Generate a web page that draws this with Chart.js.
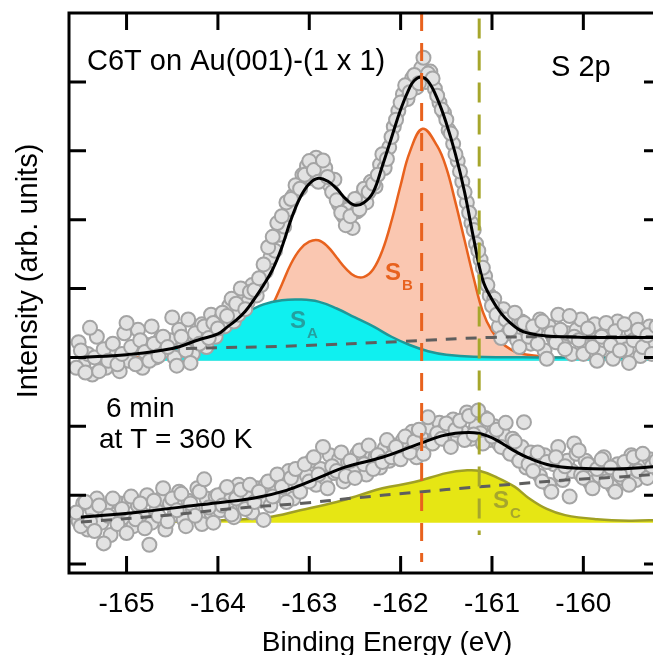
<!DOCTYPE html>
<html lang="en">
<head>
<meta charset="UTF-8">
<title>S 2p - C6T on Au(001)</title>
<style>
  html, body { margin: 0; padding: 0; background: #fff; overflow: hidden; }
  #wrap { width: 670px; height: 655px; }
</style>
</head>
<body>
<div id="wrap"><canvas id="xps" width="670" height="655"></canvas></div>
<script src="https://cdn.jsdelivr.net/npm/chart.js"></script>
<script>
// binding energy of the measured points (eV), two interleaved sets
const energy = [
  -165.55, -165.50, -165.45, -165.40, -165.35, -165.30, -165.25, -165.20, -165.15, -165.10,
  -165.05, -165.00, -164.95, -164.90, -164.85, -164.80, -164.75, -164.70, -164.65, -164.60,
  -164.55, -164.50, -164.45, -164.40, -164.35, -164.30, -164.25, -164.20, -164.15, -164.10,
  -164.05, -164.00, -163.95, -163.90, -163.85, -163.80, -163.75, -163.70, -163.65, -163.60,
  -163.55, -163.50, -163.45, -163.40, -163.35, -163.30, -163.25, -163.20, -163.15, -163.10,
  -163.05, -163.00, -162.95, -162.90, -162.85, -162.80, -162.75, -162.70, -162.65, -162.60,
  -162.55, -162.50, -162.45, -162.40, -162.35, -162.30, -162.25, -162.20, -162.15, -162.10,
  -162.05, -162.00, -161.95, -161.90, -161.85, -161.80, -161.75, -161.70, -161.65, -161.60,
  -161.55, -161.50, -161.45, -161.40, -161.35, -161.30, -161.25, -161.20, -161.15, -161.10,
  -161.05, -161.00, -160.95, -160.90, -160.85, -160.80, -160.75, -160.70, -160.65, -160.60,
  -160.55, -160.50, -160.45, -160.40, -160.35, -160.30, -160.25, -160.20, -160.15, -160.10,
  -160.05, -160.00, -159.95, -159.90, -159.85, -159.80, -159.75, -159.70, -159.65, -159.60,
  -159.55, -159.50, -159.45, -159.40, -159.35, -159.30, -159.25, -159.20
];
const energyMid = [
  -165.525, -165.475, -165.425, -165.375, -165.325, -165.275, -165.225, -165.175, -165.125, -165.075,
  -165.025, -164.975, -164.925, -164.875, -164.825, -164.775, -164.725, -164.675, -164.625, -164.575,
  -164.525, -164.475, -164.425, -164.375, -164.325, -164.275, -164.225, -164.175, -164.125, -164.075,
  -164.025, -163.975, -163.925, -163.875, -163.825, -163.775, -163.725, -163.675, -163.625, -163.575,
  -163.525, -163.475, -163.425, -163.375, -163.325, -163.275, -163.225, -163.175, -163.125, -163.075,
  -163.025, -162.975, -162.925, -162.875, -162.825, -162.775, -162.725, -162.675, -162.625, -162.575,
  -162.525, -162.475, -162.425, -162.375, -162.325, -162.275, -162.225, -162.175, -162.125, -162.075,
  -162.025, -161.975, -161.925, -161.875, -161.825, -161.775, -161.725, -161.675, -161.625, -161.575,
  -161.525, -161.475, -161.425, -161.375, -161.325, -161.275, -161.225, -161.175, -161.125, -161.075,
  -161.025, -160.975, -160.925, -160.875, -160.825, -160.775, -160.725, -160.675, -160.625, -160.575,
  -160.525, -160.475, -160.425, -160.375, -160.325, -160.275, -160.225, -160.175, -160.125, -160.075,
  -160.025, -159.975, -159.925, -159.875, -159.825, -159.775, -159.725, -159.675, -159.625, -159.575,
  -159.525, -159.475, -159.425, -159.375, -159.325, -159.275, -159.225
];

// upper spectrum (as deposited)
const countsTop = [
  2.85, 3.10, 2.78, 3.43, 3.00, 2.80, 3.12, 2.95, 3.20, 2.90,
  3.05, 3.50, 3.15, 2.90, 3.25, 3.08, 2.95, 3.20, 3.02, 3.30,
  3.15, 3.58, 2.88, 3.30, 3.10, 2.92, 3.35, 3.20, 3.45, 3.28,
  3.50, 3.42, 3.65, 3.60, 3.85, 3.78, 4.00, 3.70, 3.95, 3.98,
  4.15, 4.35, 4.60, 4.75, 4.95, 5.05, 5.25, 5.30, 5.50, 5.45,
  5.65, 5.85, 5.72, 5.55, 5.86, 5.62, 5.40, 5.28, 5.10, 4.92,
  5.05, 5.30, 5.15, 5.45, 5.40, 5.52, 5.65, 5.95, 5.88, 6.20,
  6.45, 6.70, 6.95, 6.85, 7.10, 6.98, 7.35, 7.12, 7.05, 6.80,
  6.60, 6.45, 6.25, 5.95, 5.70, 5.40, 5.10, 4.85, 4.55, 4.30,
  4.05, 3.75, 3.62, 3.28, 3.55, 3.40, 3.65, 3.15, 3.50, 3.30,
  3.45, 3.20, 3.52, 2.98, 3.35, 3.22, 3.40, 3.12, 3.60, 3.30,
  3.25, 3.05, 3.42, 3.15, 2.95, 3.30, 3.50, 3.18, 3.38, 3.10,
  3.48, 2.92, 3.25, 3.40, 3.15, 3.32, 3.05, 3.45
];
const countsTopMid = [
  3.22, 2.88, 3.05, 2.75, 3.30, 2.98, 2.85, 3.15, 3.05, 2.80,
  3.35, 2.95, 3.12, 3.40, 2.85, 3.18, 3.45, 3.00, 3.28, 3.10,
  3.25, 3.00, 3.40, 3.18, 3.55, 3.05, 3.22, 3.48, 3.15, 3.62,
  3.30, 3.55, 3.45, 3.75, 3.52, 3.62, 3.88, 3.80, 4.05, 3.90,
  4.05, 4.25, 4.45, 4.55, 4.78, 4.90, 5.15, 5.35, 5.42, 5.65,
  5.78, 5.60, 5.90, 5.68, 5.75, 5.50, 5.58, 5.22, 5.05, 5.15,
  4.88, 5.12, 5.35, 5.25, 5.55, 5.48, 5.80, 5.75, 6.05, 6.35,
  6.58, 6.82, 6.75, 7.05, 6.92, 7.20, 7.00, 7.15, 6.90, 6.70,
  6.55, 6.30, 6.10, 5.85, 5.55, 5.25, 4.95, 4.65, 4.42, 4.18,
  3.90, 3.85, 3.45, 3.70, 3.35, 3.58, 3.25, 3.52, 3.42, 3.20,
  3.38, 3.55, 3.10, 3.45, 3.28, 3.62, 3.18, 3.35, 3.05, 3.40,
  3.55, 3.20, 3.35, 3.48, 3.10, 3.25, 3.40, 2.98, 3.52, 3.22,
  3.12, 3.38, 3.55, 3.02, 3.28, 3.45, 3.18
];

// lower spectrum (6 min at 360 K)
const countsBottom = [
  0.75, 0.55, 0.90, 0.62, 0.48, 0.85, 0.30, 0.70, 0.95, 0.58,
  0.80, 0.45, 0.98, 0.65, 0.88, 0.52, 0.28, 0.92, 0.70, 1.10,
  0.62, 0.95, 0.78, 1.02, 0.55, 0.88, 0.70, 1.05, 1.23, 0.82,
  0.60, 1.00, 0.85, 1.12, 0.72, 0.95, 1.08, 0.80, 1.15, 0.90,
  1.05, 0.64, 1.20, 0.98, 1.30, 1.12, 0.90, 1.25, 1.38, 1.05,
  1.45, 1.20, 1.55, 1.30, 1.70, 1.10, 1.42, 1.35, 1.62, 1.28,
  1.50, 1.25, 1.65, 1.45, 1.72, 1.38, 1.58, 1.48, 1.80, 1.55,
  1.70, 1.52, 1.85, 1.62, 1.78, 1.95, 1.60, 2.13, 1.75, 1.90,
  1.82, 2.04, 1.70, 1.95, 2.08, 1.80, 2.15, 1.88, 2.23, 1.75,
  2.10, 1.85, 1.95, 1.70, 2.05, 1.60, 1.78, 1.50, 2.06, 1.45,
  1.35, 1.62, 1.20, 1.48, 1.05, 1.55, 1.30, 1.42, 0.98, 1.75,
  1.65, 1.25, 1.45, 1.10, 1.38, 1.52, 1.20, 1.40, 1.05, 1.30,
  1.48, 1.15, 1.55, 1.35, 1.60, 1.25, 1.42, 1.50
];
const countsBottomMid = [
  0.62, 0.88, 0.50, 0.78, 0.95, 0.60, 0.82, 0.42, 0.72, 0.88,
  0.68, 0.92, 0.55, 0.85, 0.72, 1.00, 0.60, 0.78, 0.95, 0.50,
  0.88, 0.72, 1.05, 0.65, 0.92, 0.80, 1.10, 0.58, 0.95, 0.75,
  0.98, 0.78, 1.05, 0.92, 0.68, 1.15, 0.85, 1.02, 0.75, 1.10,
  0.92, 1.15, 0.85, 1.10, 1.00, 1.22, 1.35, 0.95, 1.18, 1.40,
  1.28, 1.50, 1.15, 1.38, 1.25, 1.58, 1.32, 1.52, 1.20, 1.48,
  1.35, 1.60, 1.52, 1.30, 1.62, 1.55, 1.40, 1.68, 1.50, 1.72,
  1.58, 1.80, 1.68, 1.92, 1.55, 1.85, 1.72, 1.98, 1.82, 2.05,
  1.95, 1.78, 2.10, 1.85, 1.92, 2.20, 1.82, 2.00, 1.90, 2.12,
  1.80, 2.00, 1.75, 1.88, 1.65, 1.82, 1.55, 1.70, 1.40, 1.62,
  1.50, 1.28, 1.58, 1.15, 1.45, 1.70, 1.22, 1.50, 1.35, 1.60,
  1.30, 1.50, 1.18, 1.42, 1.28, 1.55, 1.35, 1.12, 1.45, 1.25,
  1.38, 1.58, 1.22, 1.45, 1.30, 1.52, 1.40
];

// fit envelope, upper spectrum
const fitTopE = [-165.5, -165.0, -164.5, -164.2, -164.0, -163.9, -163.8, -163.7, -163.6, -163.5, -163.4, -163.3, -163.2, -163.1, -163.0, -162.9, -162.8, -162.7, -162.6, -162.5, -162.4, -162.3, -162.2, -162.1, -162.0, -161.9, -161.85, -161.78, -161.7, -161.6, -161.5, -161.4, -161.3, -161.2, -161.1, -161.0, -160.9, -160.8, -160.7, -160.6, -160.4, -160.0, -159.5, -159.15];
const fitTopI = [3.00, 3.04, 3.13, 3.26, 3.34, 3.44, 3.54, 3.67, 3.85, 4.05, 4.28, 4.60, 5.00, 5.32, 5.52, 5.60, 5.56, 5.45, 5.30, 5.21, 5.25, 5.40, 5.78, 6.19, 6.60, 6.92, 7.02, 7.07, 7.01, 6.76, 6.40, 5.95, 5.40, 4.72, 4.12, 3.84, 3.64, 3.50, 3.40, 3.35, 3.31, 3.29, 3.29, 3.29];

// component S_B
const compBE = [-165.15, -164.5, -164.0, -163.8, -163.6, -163.5, -163.4, -163.3, -163.2, -163.1, -163.0, -162.9, -162.8, -162.7, -162.6, -162.5, -162.4, -162.3, -162.2, -162.1, -162.0, -161.9, -161.76, -161.6, -161.5, -161.4, -161.3, -161.2, -161.1, -161.0, -160.9, -160.8, -160.7, -160.5, -160.3, -159.15];
const compBI = [3.00, 3.01, 3.04, 3.12, 3.38, 3.58, 3.77, 4.06, 4.36, 4.57, 4.68, 4.70, 4.61, 4.45, 4.29, 4.18, 4.17, 4.28, 4.55, 4.98, 5.50, 5.98, 6.32, 6.07, 5.75, 5.25, 4.70, 4.15, 3.66, 3.38, 3.22, 3.12, 3.06, 3.02, 3.00, 3.00];

// component S_A
const compAE = [-164.72, -164.5, -164.3, -164.1, -163.9, -163.7, -163.5, -163.3, -163.1, -162.9, -162.7, -162.5, -162.3, -162.1, -161.9, -161.7, -161.5, -161.2, -160.5, -159.15];
const compAI = [3.07, 3.14, 3.22, 3.31, 3.46, 3.64, 3.77, 3.83, 3.84, 3.81, 3.71, 3.58, 3.45, 3.30, 3.18, 3.09, 3.04, 3.01, 3.00, 3.00];

// background, upper spectrum
const bgTopE = [-164.35, -163.1, -162.0, -161.0, -160.0, -159.15];
const bgTopI = [3.13, 3.17, 3.23, 3.29, 3.30, 3.30];

// fit envelope, lower spectrum
const fitBotE = [-165.5, -164.9, -164.2, -163.6, -163.25, -162.9, -162.6, -162.2, -161.85, -161.55, -161.4, -161.25, -161.15, -161.05, -160.95, -160.85, -160.75, -160.6, -160.35, -160.05, -159.65, -159.15];
const fitBotI = [0.68, 0.75, 0.86, 0.96, 1.07, 1.25, 1.41, 1.55, 1.72, 1.86, 1.90, 1.91, 1.90, 1.86, 1.80, 1.72, 1.64, 1.54, 1.43, 1.39, 1.38, 1.42];

// component S_C
const compCE = [-165.5, -164.3, -163.9, -163.45, -163.1, -162.7, -162.45, -162.2, -161.85, -161.5, -161.27, -161.13, -160.95, -160.75, -160.6, -160.4, -160.2, -159.85, -159.5, -159.15];
const compCI = [0.62, 0.62, 0.64, 0.68, 0.78, 0.90, 1.00, 1.10, 1.19, 1.32, 1.36, 1.35, 1.26, 1.12, 0.96, 0.80, 0.71, 0.65, 0.63, 0.64];

// background, lower spectrum
const bgBotE = [-165.5, -164.55, -163.8, -163.1, -162.5, -161.85, -161.15, -160.75, -160.2, -159.65, -159.15];
const bgBotI = [0.61, 0.71, 0.81, 0.88, 0.96, 1.04, 1.12, 1.16, 1.22, 1.26, 1.31];

// peak position markers
const markerBE = [-161.77, -161.77];
const markerBI = [8.0, 0.03];
const markerCE = [-161.14, -161.14];
const markerCI = [7.92, 0.42];

const xTicks = [-165, -164, -163, -162, -161, -160];
const yTicks = [0, 1, 2, 3, 4, 5, 6, 7];

const FONT = '"Liberation Sans", Arial, sans-serif';

function xy(xs, ys) {
  return xs.map((x, i) => ({ x: x, y: ys[i] }));
}

function curve(xs, ys, color, width, order, extra) {
  return Object.assign({
    data: xy(xs, ys),
    borderColor: color,
    borderWidth: width,
    pointRadius: 0,
    fill: false,
    tension: 0.4,
    order: order
  }, extra || {});
}

function points(xs, ys, order) {
  return {
    data: xy(xs, ys),
    showLine: false,
    pointRadius: 7,
    pointBackgroundColor: '#e2e2e2',
    pointBorderColor: '#a4a4a4',
    pointBorderWidth: 2,
    order: order
  };
}

// frame, inward ticks and all the texts
const framePlugin = {
  id: 'frame',
  afterDraw(chart) {
    const ctx = chart.ctx;
    const a = chart.chartArea;
    const sx = chart.scales.x;
    const sy = chart.scales.y;
    ctx.save();
    ctx.strokeStyle = '#000';
    ctx.lineWidth = 3;
    ctx.strokeRect(a.left, a.top, a.right - a.left, a.bottom - a.top);
    ctx.beginPath();
    xTicks.forEach(v => {
      const px = sx.getPixelForValue(v);
      ctx.moveTo(px, a.bottom); ctx.lineTo(px, a.bottom - 17);
      ctx.moveTo(px, a.top); ctx.lineTo(px, a.top + 17);
    });
    yTicks.forEach(v => {
      const py = sy.getPixelForValue(v);
      ctx.moveTo(a.left, py); ctx.lineTo(a.left + 17, py);
      ctx.moveTo(a.right, py); ctx.lineTo(a.right - 17, py);
    });
    ctx.stroke();

    ctx.fillStyle = '#000';
    ctx.font = '28px ' + FONT;
    ctx.textAlign = 'center';
    ctx.textBaseline = 'alphabetic';
    xTicks.forEach(v => ctx.fillText(String(v), sx.getPixelForValue(v), a.bottom + 39));
    ctx.fillText('Binding Energy (eV)', 387, 651);

    ctx.save();
    ctx.translate(37, 271);
    ctx.rotate(-Math.PI / 2);
    ctx.font = '29px ' + FONT;
    ctx.fillText('Intensity (arb. units)', 0, 0);
    ctx.restore();

    ctx.textAlign = 'left';
    ctx.font = '29px ' + FONT;
    ctx.fillText('C6T on Au(001)-(1 x 1)', 87, 70);
    ctx.fillText('S 2p', 551, 76);
    ctx.font = '28px ' + FONT;
    ctx.fillText('6 min', 106, 417);
    ctx.fillText('at T = 360 K', 99, 448);

    function comp(letter, sub, x, y, color) {
      ctx.fillStyle = color;
      ctx.font = 'bold 24px ' + FONT;
      ctx.fillText(letter, x, y);
      const w = ctx.measureText(letter).width;
      ctx.font = 'bold 15px ' + FONT;
      ctx.fillText(sub, x + w + 1, y + 10);
    }
    comp('S', 'B', 385, 280, '#e8621e');
    comp('S', 'A', 290, 328, '#23a0a0');
    comp('S', 'C', 493, 508, '#a6a62c');
    ctx.restore();
  }
};

const datasets = [
  curve(compBE, compBI, '#e8621e', 2.5, 10, { fill: { value: 2.95 }, backgroundColor: '#fac7b1' }),
  curve(compAE, compAI, '#1e9898', 2.5, 9, { fill: { value: 2.95 }, backgroundColor: '#0ff0f0' }),
  curve(compCE, compCI, '#a0a024', 2.5, 9, { fill: { value: 0.60 }, backgroundColor: '#e6e614' }),
  points(energy, countsTop, 8),
  points(energyMid, countsTopMid, 8),
  points(energy, countsBottom, 8),
  points(energyMid, countsBottomMid, 8),
  curve(bgTopE, bgTopI, '#5e5e5e', 3, 7, { borderDash: [11, 9] }),
  curve(bgBotE, bgBotI, '#5e5e5e', 3, 7, { borderDash: [11, 9] }),
  curve(fitTopE, fitTopI, '#000000', 3, 6),
  curve(fitBotE, fitBotI, '#000000', 3, 6),
  curve(markerBE, markerBI, '#e8621e', 3, 5, { borderDash: [18, 12], tension: 0 }),
  curve(markerCE, markerCI, '#a6a62c', 3, 5, { borderDash: [20, 12], tension: 0 })
];

new Chart(document.getElementById('xps'), {
  type: 'line',
  data: { datasets: datasets },
  options: {
    responsive: false,
    animation: false,
    layout: { padding: { left: 69, right: 5, top: 13, bottom: 82 } },
    plugins: { legend: { display: false }, tooltip: { enabled: false } },
    scales: {
      x: { type: 'linear', min: -165.63, max: -159.15, display: false },
      y: { type: 'linear', min: -0.13, max: 8.0, display: false }
    }
  },
  plugins: [framePlugin]
});
</script>
</body>
</html>
